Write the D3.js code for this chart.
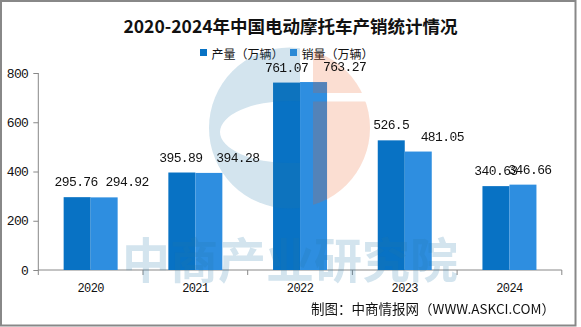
<!DOCTYPE html>
<html><head><meta charset="utf-8">
<script src="https://cdn.jsdelivr.net/npm/d3@7"></script>
<style>body{margin:0;background:#fff}svg{display:block}</style>
</head><body>
<script>
// ---- data ----
const years = ["2020", "2021", "2022", "2023", "2024"];
const production = [295.76, 395.89, 761.07, 526.5, 340.63];
const sales = [294.92, 394.28, 763.27, 481.05, 346.66];
const yTicks = [0, 200, 400, 600, 800];
const seriesNames = ["产量（万辆）", "销量（万辆）"];
const titleText = "2020-2024年中国电动摩托车产销统计情况";
const sourceText = "制图：中商情报网（WWW.ASKCI.COM）";
const watermarkText = "中商产业研究院";

// ---- layout / style ----
const W = 581, H = 327;
const colors = ["#0872C4", "#2E8EE0"];
const labelShift = [[-1, 23], [-1, 29], [0, 31], [0, 24], [0, 7]]; // manual label nudges
const monoFont = "'Liberation Mono', 'DejaVu Sans Mono', monospace";
const cjkFont = "'Noto Sans CJK SC', 'Noto Sans', sans-serif";

const svg = d3.select("body").append("svg").attr("width", W).attr("height", H);

// frame
svg.append("rect").attr("x", 1).attr("y", 1).attr("width", 574.5).attr("height", 324.5)
  .attr("fill", "#fff").attr("stroke", "#888").attr("stroke-width", 2);

const x = d3.scaleBand().domain(years).range([38.3, 561.8]).paddingInner(0).paddingOuter(0);
const y = d3.scaleLinear().domain([0, 800]).range([270, 73]);
const barW = 27;
const sub = d3.scaleBand().domain([0, 1]).range([0, barW * 2]);

// title
svg.append("text").attr("x", 290.5).attr("y", 25).attr("text-anchor", "middle")
  .attr("dominant-baseline", "central").attr("font-family", cjkFont).attr("font-weight", "bold")
  .attr("font-size", 17.5).attr("fill", "#111").text(titleText);

// legend
const legendX = [200, 290];
seriesNames.forEach((n, i) => {
  svg.append("rect").attr("x", legendX[i]).attr("y", 49).attr("width", 7).attr("height", 7).attr("fill", colors[i]);
  svg.append("text").attr("x", legendX[i] + 11.5).attr("y", 53).attr("dominant-baseline", "central")
    .attr("font-family", cjkFont).attr("font-size", 12).attr("fill", "#111").text(n);
});

// axes
const axisColor = "#888";
const yAxis = svg.append("g").attr("transform", "translate(38.3,0)")
  .call(d3.axisLeft(y).tickValues(yTicks).tickSize(5).tickPadding(5).tickFormat(d3.format("d")));
yAxis.select(".domain").attr("stroke", axisColor).attr("d", `M0,${y(800)}V${y(0)}`);
yAxis.selectAll(".tick line").attr("stroke", axisColor);
yAxis.selectAll(".tick text").attr("font-family", monoFont).attr("font-size", 13).attr("letter-spacing", -0.6).attr("fill", "#111");

const xAxis = svg.append("g").attr("transform", `translate(0,${y(0)})`)
  .call(d3.axisBottom(x).tickSize(0).tickPadding(13));
xAxis.select(".domain").attr("stroke", axisColor).attr("d", `M38.3,0H561.8`);
xAxis.selectAll(".tick text").attr("font-family", monoFont).attr("font-size", 12).attr("letter-spacing", -0.6).attr("fill", "#111");
// category boundary ticks
const bounds = years.map(d => x(d)).concat([x(years[years.length - 1]) + x.bandwidth()]);
xAxis.selectAll("line.bound").data(bounds).enter().append("line").attr("class", "bound")
  .attr("x1", d => d).attr("x2", d => d).attr("y1", 0).attr("y2", 5).attr("stroke", axisColor);

// bars
const series = [production, sales];
const barsG = svg.append("g");
years.forEach((yr, i) => {
  const start = x(yr) + x.bandwidth() / 2 - barW;
  series.forEach((s, j) => {
    barsG.append("rect").attr("x", start + sub(j)).attr("y", y(s[i]))
      .attr("width", barW).attr("height", y(0) - y(s[i])).attr("fill", colors[j]);
  });
});

// watermark
const wm = svg.append("g").attr("opacity", 0.2);
const defs = svg.append("defs");
const cx = 289.5, cy = 128, r = 80.5;
defs.append("clipPath").attr("id", "circ").append("circle").attr("cx", cx).attr("cy", cy).attr("r", r);
defs.append("clipPath").attr("id", "leftPart").append("rect").attr("x", cx - r - 2).attr("y", 0).attr("width", 300 - (cx - r - 2)).attr("height", H);
const logo = wm.append("g").attr("clip-path", "url(#circ)");
logo.append("g").attr("clip-path", "url(#leftPart)").append("path")
  .attr("fill-rule", "evenodd").attr("fill", "rgb(35,120,170)")
  .attr("d", `M180,30H320V230H180Z M220,132 A70,31 0 1,0 360,132 A70,31 0 1,0 220,132Z`);
logo.append("rect").attr("x", 313).attr("y", 30).attr("width", 80).attr("height", 63).attr("fill", "rgb(235,92,32)");
logo.append("rect").attr("x", 313).attr("y", 101.5).attr("width", 80).attr("height", 130).attr("fill", "rgb(235,92,32)");
wm.append("text").attr("x", 290).attr("y", 257).attr("text-anchor", "middle").attr("dominant-baseline", "central")
  .attr("font-family", cjkFont).attr("font-weight", "bold").attr("font-size", 48)
  .attr("fill", "rgb(35,120,170)").text(watermarkText);

// data labels
const fmt = v => String(v);
years.forEach((yr, i) => {
  const start = x(yr) + x.bandwidth() / 2 - barW;
  series.forEach((s, j) => {
    svg.append("text").attr("x", start + sub(j) + barW / 2 + labelShift[i][j]).attr("y", y(s[i]) - 11)
      .attr("text-anchor", "middle").attr("font-family", monoFont).attr("font-size", 13)
      .attr("letter-spacing", -0.6).attr("fill", "#111").text(fmt(s[i]));
  });
});

// source
svg.append("text").attr("x", 555).attr("y", 308).attr("text-anchor", "end").attr("dominant-baseline", "central")
  .attr("font-family", cjkFont).attr("font-size", 13.5).attr("fill", "#111").text(sourceText);
</script>
</body></html>
